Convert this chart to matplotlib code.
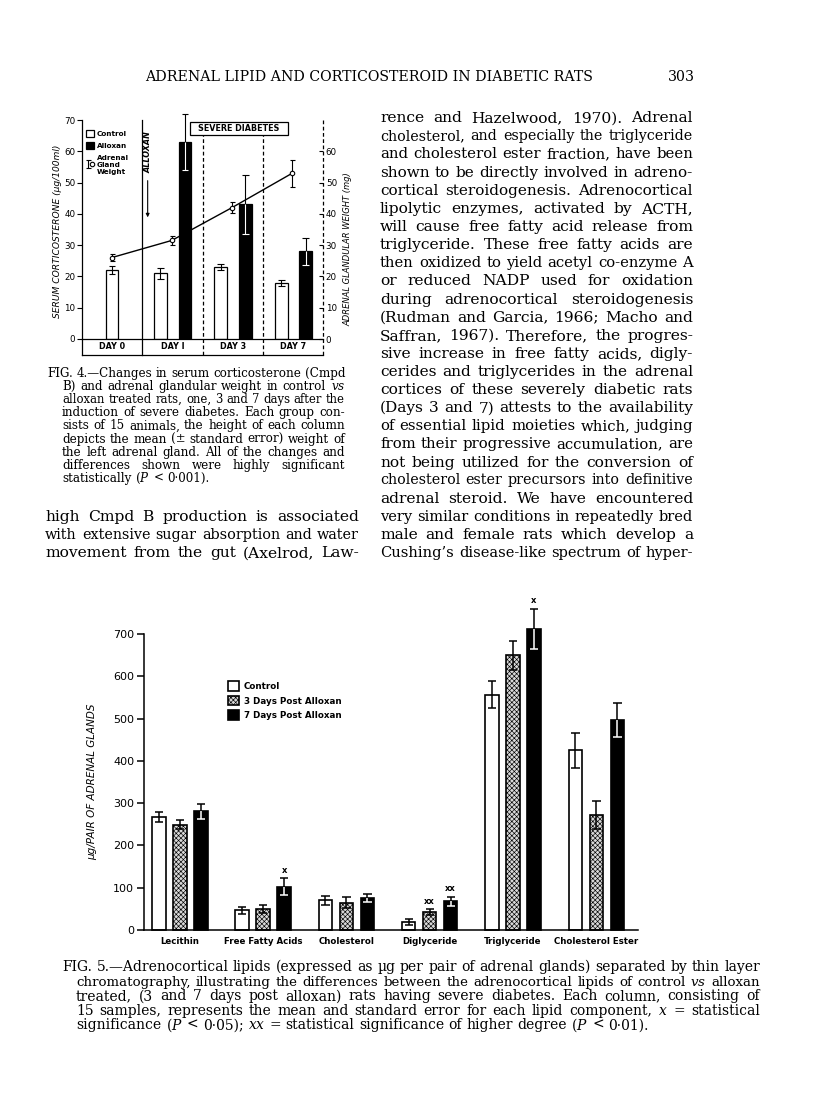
import matplotlib
matplotlib.use('Agg')
import matplotlib.pyplot as plt
from matplotlib.patches import Rectangle
from matplotlib.legend_handler import HandlerTuple
import numpy as np

# ---------------- Fig. 4 data ----------------
days = ['DAY 0', 'DAY I', 'DAY 3', 'DAY 7']
control_cmpd_b = [22, 21, 23, 18]          # serum corticosterone, ug/100 ml
control_cmpd_b_se = [1.2, 1.8, 1.0, 1.0]
alloxan_cmpd_b = [63, 43, 28]              # DAY I, DAY 3, DAY 7
alloxan_cmpd_b_se = [9.0, 9.5, 4.2]
gland_weight_mg = [26, 31.5, 42, 53]       # adrenal gland weight, mg
gland_weight_se = [1.2, 1.5, 1.8, 4.3]
left_ticks4 = [0, 10, 20, 30, 40, 50, 60, 70]
right_ticks4 = [0, 10, 20, 30, 40, 50, 60]

# ---------------- Fig. 5 data ----------------
lipids = ['Lecithin', 'Free Fatty Acids', 'Cholesterol', 'Diglyceride',
          'Triglyceride', 'Cholesterol Ester']
control_ug = [267, 47, 70, 20, 556, 425]
control_se = [12, 8, 10, 7, 32, 42]
post3_ug = [249, 50, 65, 42, 650, 272]
post3_se = [10, 9, 13, 7, 34, 34]
post7_ug = [281, 102, 76, 68, 712, 497]
post7_se = [18, 20, 10, 11, 48, 40]
sig_post3 = ['', '', '', 'xx', '', '']
sig_post7 = ['', 'x', '', 'xx', 'x', '']
yticks5 = [0, 100, 200, 300, 400, 500, 600, 700]

# ---------------- page text ----------------
header = 'ADRENAL LIPID AND CORTICOSTEROID IN DIABETIC RATS'
page_no = '303'
right_col = [
    "rence and Hazelwood, 1970). Adrenal",
    "cholesterol, and especially the triglyceride",
    "and cholesterol ester fraction, have been",
    "shown to be directly involved in adreno-",
    "cortical steroidogenesis. Adrenocortical",
    "lipolytic enzymes, activated by ACTH,",
    "will cause free fatty acid release from",
    "triglyceride. These free fatty acids are",
    "then oxidized to yield acetyl co-enzyme A",
    "or reduced NADP used for oxidation",
    "during adrenocortical steroidogenesis",
    "(Rudman and Garcia, 1966; Macho and",
    "Saffran, 1967). Therefore, the progres-",
    "sive increase in free fatty acids, digly-",
    "cerides and triglycerides in the adrenal",
    "cortices of these severely diabetic rats",
    "(Days 3 and 7) attests to the availability",
    "of essential lipid moieties which, judging",
    "from their progressive accumulation, are",
    "not being utilized for the conversion of",
    "cholesterol ester precursors into definitive",
    "adrenal steroid. We have encountered",
    "very similar conditions in repeatedly bred",
    "male and female rats which develop a",
    "Cushing\u2019s disease-like spectrum of hyper-",
]
left_col = [
    "high Cmpd B production is associated",
    "with extensive sugar absorption and water",
    "movement from the gut (Axelrod, Law-",
]
cap4 = [
    "FIG. 4.\u2014Changes in serum corticosterone (Cmpd",
    "B) and adrenal glandular weight in control $vs$",
    "alloxan treated rats, one, 3 and 7 days after the",
    "induction of severe diabetes. Each group con-",
    "sists of 15 animals, the height of each column",
    "depicts the mean (\u00b1 standard error) weight of",
    "the left adrenal gland. All of the changes and",
    "differences shown were highly significant",
    "statistically ($P$ < 0\u00b7001).",
]
cap5 = [
    "FIG. 5.\u2014Adrenocortical lipids (expressed as \u00b5g per pair of adrenal glands) separated by thin layer",
    "chromatography, illustrating the differences between the adrenocortical lipids of control $vs$ alloxan",
    "treated, (3 and 7 days post alloxan) rats having severe diabetes. Each column, consisting of",
    "15 samples, represents the mean and standard error for each lipid component, $x$ = statistical",
    "significance ($P$ < 0\u00b705); $xx$ = statistical significance of higher degree ($P$ < 0\u00b701).",
]

plt.rcParams['font.family'] = ['DejaVu Sans']
plt.rcParams['mathtext.fontset'] = 'dejavuserif'
plt.rcParams['hatch.linewidth'] = 0.45

W, H = 816, 1095
fig = plt.figure(figsize=(W / 100, H / 100), dpi=100)
fig.patch.set_facecolor('white')
R = fig.canvas.get_renderer()
SERIF = 'DejaVu Serif'


def fx(x):
    return x / W


def fy(y):
    return 1 - y / H


def measure(s, size):
    t = fig.text(0, 0, s, fontsize=size, family=SERIF)
    w = t.get_window_extent(renderer=R).width
    t.remove()
    return w


def space_w(size):
    return measure('a a', size) - measure('aa', size)


def line_factor(line, left, right, s0=10):
    ws = [measure(w, s0) for w in line.split()]
    nat = sum(ws) + space_w(s0) * (len(ws) - 1)
    return (right - left) / nat


def text_block(lines, lefts, rights, ys, just, s0=10):
    facs = [line_factor(l, a, b, s0) for l, a, b, j in zip(lines, lefts, rights, just) if j]
    base = s0 * float(np.median(facs)) * 0.985
    for line, l, r, y, j in zip(lines, lefts, rights, ys, just):
        size = base
        if j:
            size = min(base, s0 * line_factor(line, l, r, s0) * 0.995)
        em = size * 100 / 72
        words = line.split()
        ws = [measure(w, size) for w in words]
        if j and len(words) > 1:
            gap = (r - l - sum(ws)) / (len(words) - 1)
        else:
            gap = space_w(size)
        x = l
        for w, wd in zip(words, ws):
            fig.text(fx(x), fy(y + 0.3 * em), w, fontsize=size, family=SERIF,
                     ha='left', va='baseline')
            x += wd + gap
    return base


# header
hs = 10 * line_factor(header, 145, 590) * 0.995
fig.text(fx(145), fy(77 + 0.3 * hs * 100 / 72), header, fontsize=hs, family=SERIF,
         ha='left', va='baseline')
fig.text(fx(695), fy(77 + 0.3 * hs * 100 / 72), page_no, fontsize=hs, family=SERIF,
         ha='right', va='baseline')

# body columns
ys_r = [117.6 + 18.13 * k for k in range(len(right_col))]
ys_l = [117.6 + 18.13 * (22 + k) for k in range(len(left_col))]
text_block(right_col + left_col,
           [380] * len(right_col) + [45] * len(left_col),
           [693] * len(right_col) + [359] * len(left_col),
           ys_r + ys_l, [True] * (len(right_col) + len(left_col)))

# captions
text_block(cap4, [47] + [62] * (len(cap4) - 1), [345] * len(cap4),
           [373.3 + 13.125 * i for i in range(len(cap4))],
           [True] * (len(cap4) - 1) + [False])
text_block(cap5, [62] + [76] * (len(cap5) - 1), [760] * len(cap5),
           [967 + 14.5 * i for i in range(len(cap5))],
           [True] * (len(cap5) - 1) + [False])


def errbars(ax, x, y, err, cw, lw, low_colors):
    x = np.asarray(x, float)
    y = np.asarray(y, float)
    e = np.asarray(err, float)
    ax.vlines(x, y, y + e, colors='k', lw=lw, zorder=4, clip_on=False)
    ax.hlines(y + e, x - cw, x + cw, colors='k', lw=lw, zorder=4, clip_on=False)
    ax.vlines(x, y - e, y, colors=low_colors, lw=lw, zorder=4, clip_on=False)
    ax.hlines(y - e, x - cw, x + cw, colors=low_colors, lw=lw, zorder=4, clip_on=False)


# ================= Fig. 4 =================
ax4 = fig.add_axes([fx(82), fy(339), (323 - 82) / W, (339 - 120) / H])
ax4.set_xlim(0, 4)
ax4.set_ylim(0, 70)
di = np.arange(len(days))
ctrl_x = di + np.array([0.5, 0.3, 0.3, 0.31])
allox_x = di[1:] + 0.71
bw4 = 0.21
bc = ax4.bar(ctrl_x, control_cmpd_b, bw4, color='white', edgecolor='k', lw=0.9, zorder=2)
ba = ax4.bar(allox_x, alloxan_cmpd_b, bw4, color='k', edgecolor='k', lw=0.9, zorder=2)
errbars(ax4, ctrl_x, control_cmpd_b, control_cmpd_b_se, 0.055, 0.8, 'k')
errbars(ax4, allox_x, alloxan_cmpd_b, alloxan_cmpd_b_se, 0.055, 0.8, 'white')

for s in ['top', 'right']:
    ax4.spines[s].set_visible(False)
ax4.spines['left'].set_linewidth(0.9)
ax4.spines['bottom'].set_linewidth(0.9)
ax4.set_xticks([])
ax4.set_yticks(left_ticks4)
ax4.tick_params(axis='y', direction='out', length=3.5, width=0.8, pad=1.2, labelsize=6.3)

dash = (0, (3, 2))
ax4.plot([1, 1], [-5.1, 70], color='k', lw=0.9, clip_on=False)
ax4.plot([2, 2], [-5.1, 65.2], color='k', lw=0.9, ls=dash, clip_on=False)
ax4.plot([3, 3], [-5.1, 65.2], color='k', lw=0.9, ls=dash, clip_on=False)
ax4.plot([4, 4], [-5.1, 70], color='k', lw=0.9, ls=dash, clip_on=False)
ax4.plot([0, 4], [-5.1, -5.1], color='k', lw=0.9, clip_on=False)
ax4.plot([0, 0], [-5.1, 0], color='k', lw=0.9, clip_on=False)
for i, d in enumerate(days):
    ax4.text(i + 0.5, -2.55, d, ha='center', va='center', fontsize=5.8, fontweight='bold')

ax4.add_patch(Rectangle((1.79, 65.2), 1.63, 4.2, facecolor='white', edgecolor='k',
                        lw=0.9, clip_on=False, zorder=5))
ax4.text(2.605, 67.3, 'SEVERE DIABETES', ha='center', va='center', fontsize=5.8,
         fontweight='bold', zorder=6)
ax4.text(1.09, 66.3, 'ALLOXAN', rotation=90, ha='center', va='top', fontsize=5.8,
         style='italic', fontweight='bold')
ax4.annotate('', xy=(1.09, 38), xytext=(1.09, 51.5),
             arrowprops=dict(arrowstyle='-|>', lw=0.8, color='k', mutation_scale=5))

ax4.set_ylabel('SERUM CORTICOSTERONE (\u00b5g/100ml)', fontsize=6.6, style='italic')
ax4.yaxis.set_label_coords(-0.083, 0.49)

ax4r = ax4.twinx()
ax4r.set_ylim(0, 70)
for s in ax4r.spines.values():
    s.set_visible(False)
ax4r.set_yticks(right_ticks4)
ax4r.tick_params(axis='y', direction='in', length=3, width=0.8, pad=2, labelsize=6.3)
wx = di + 0.49
ax4r.plot(wx, gland_weight_mg, color='k', lw=1.0, zorder=3)
ec = ax4r.errorbar(wx, gland_weight_mg, yerr=gland_weight_se, fmt='none', ecolor='k',
                   elinewidth=0.8, capsize=1.8, capthick=0.8, zorder=4)
mk, = ax4r.plot(wx, gland_weight_mg, 'o', ms=3.2, mfc='white', mec='k', mew=0.8,
                ls='none', zorder=5)
ax4r.set_ylabel('ADRENAL GLANDULAR WEIGHT (mg)', fontsize=6, style='italic')
ax4r.yaxis.set_label_coords(1.083, 0.41)

ax4r.legend([bc, ba, (ec, mk)], ['Control', 'Alloxan', 'Adrenal\nGland\nWeight'],
            handler_map={tuple: HandlerTuple(ndivide=None)},
            loc='upper left', bbox_to_anchor=(0.017, 0.955), frameon=False,
            prop={'size': 5.2, 'weight': 'bold'}, handlelength=1.1, handleheight=1.1,
            handletextpad=0.4, labelspacing=0.75, borderaxespad=0, borderpad=0)

# ================= Fig. 5 =================
ax5 = fig.add_axes([fx(144), fy(930), (638 - 144) / W, (930 - 634) / H])
ax5.set_xlim(-0.43, 5.5)
ax5.set_ylim(0, 700)
gx = np.arange(len(lipids))
off = 0.252
bw5 = 0.162
b1 = ax5.bar(gx - off, control_ug, bw5, color='white', edgecolor='k', lw=1.2,
             zorder=2, clip_on=False)
b2 = ax5.bar(gx, post3_ug, bw5, color='#d8d8d8', edgecolor='k', hatch='xxxxxxx', lw=1.2,
             zorder=2, clip_on=False)
b3 = ax5.bar(gx + off, post7_ug, bw5, color='k', edgecolor='k', lw=1.2,
             zorder=2, clip_on=False)
errbars(ax5, gx - off, control_ug, control_se, 0.05, 1.1, 'k')
errbars(ax5, gx, post3_ug, post3_se, 0.05, 1.1, 'k')
errbars(ax5, gx + off, post7_ug, post7_se, 0.05, 1.1, 'white')

for xs, vals, ses, sigs in [(gx, post3_ug, post3_se, sig_post3),
                            (gx + off, post7_ug, post7_se, sig_post7)]:
    for x, v, e, s in zip(xs, vals, ses, sigs):
        if s:
            ax5.annotate(s, (x, v + e), xytext=(0, 2.5), textcoords='offset points',
                         ha='center', va='bottom', fontsize=6, fontweight='bold',
                         annotation_clip=False)

for s in ['top', 'right']:
    ax5.spines[s].set_visible(False)
ax5.spines['left'].set_linewidth(1.1)
ax5.spines['bottom'].set_linewidth(1.1)
ax5.set_yticks(yticks5)
ax5.tick_params(axis='y', direction='out', length=5, width=1.1, pad=2, labelsize=8)
ax5.set_xticks(gx)
ax5.set_xticklabels(lipids, fontsize=6.2, fontweight='bold')
ax5.tick_params(axis='x', length=0, pad=5)
ax5.set_ylabel('\u00b5g/PAIR OF ADRENAL GLANDS', fontsize=7.5, style='italic')
ax5.yaxis.set_label_coords(-0.095, 0.5)

ax5.legend([b1, b2, b3], ['Control', '3 Days Post Alloxan', '7 Days Post Alloxan'],
           loc='upper left', bbox_to_anchor=(0.17, 0.84), frameon=False,
           prop={'size': 6.3, 'weight': 'bold'}, handlelength=1.3, handleheight=1.3,
           handletextpad=0.5, labelspacing=0.55, borderaxespad=0, borderpad=0)

fig.savefig('out.png', dpi=100, facecolor='white')
